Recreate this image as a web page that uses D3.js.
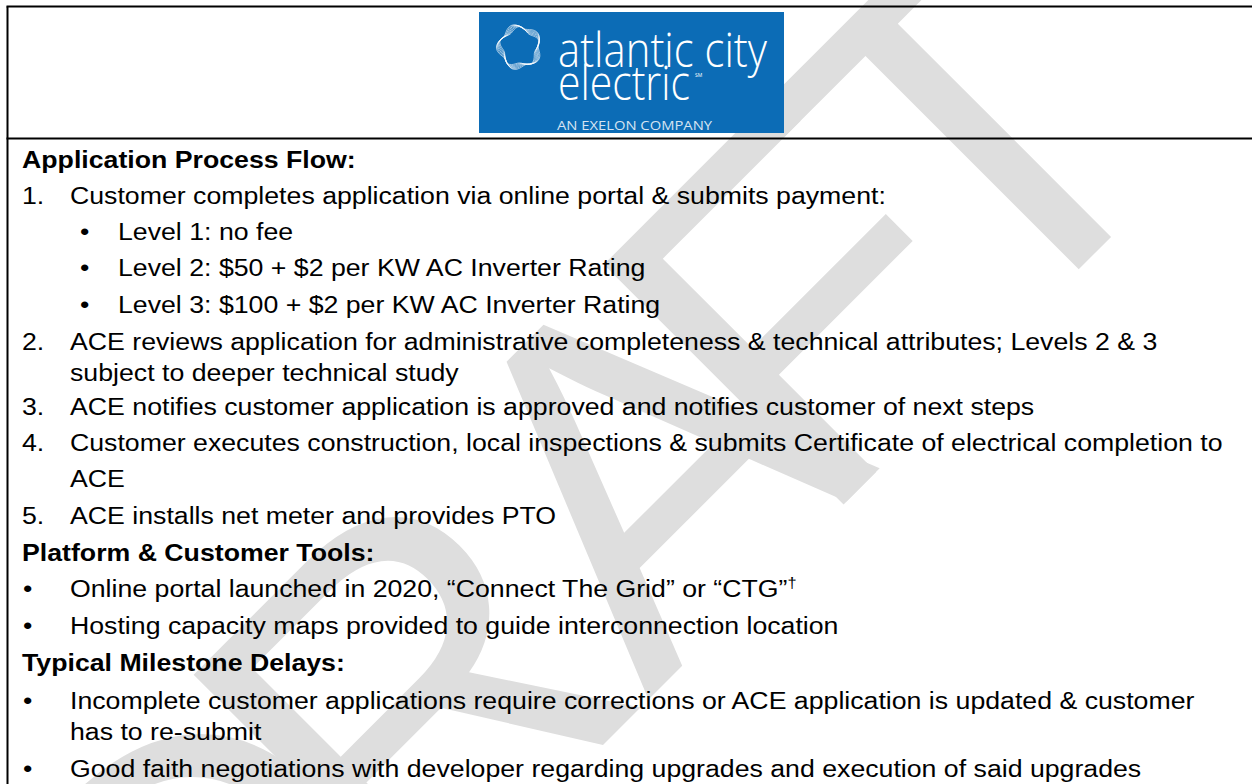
<!DOCTYPE html>
<html>
<head>
<meta charset="utf-8">
<script src="https://cdn.jsdelivr.net/npm/d3@7"></script>
<style>
  html, body { margin: 0; padding: 0; background: #fff; }
  svg { display: block; }
</style>
</head>
<body>
<svg id="chart" width="1252" height="784"></svg>
<script>
// ---------------- data ----------------
const sectionTitles = ["Application Process Flow:", "Platform & Customer Tools:", "Typical Milestone Delays:"];
const processSteps = [
  ["Customer completes application via online portal & submits payment:"],
  ["ACE reviews application for administrative completeness & technical attributes; Levels 2 & 3", "subject to deeper technical study"],
  ["ACE notifies customer application is approved and notifies customer of next steps"],
  ["Customer executes construction, local inspections & submits Certificate of electrical completion to", "ACE"],
  ["ACE installs net meter and provides PTO"]
];
const feeLevels = ["Level 1: no fee", "Level 2: $50 + $2 per KW AC Inverter Rating", "Level 3: $100 + $2 per KW AC Inverter Rating"];
const platformTools = [
  ["Online portal launched in 2020, \u201CConnect The Grid\u201D or \u201CCTG\u201D"],
  ["Hosting capacity maps provided to guide interconnection location"]
];
const milestoneDelays = [
  ["Incomplete customer applications require corrections or ACE application is updated & customer", "has to re-submit"],
  ["Good faith negotiations with developer regarding upgrades and execution of said upgrades"]
];
const logoLines = ["atlantic city", "electric"];
const logoTagline = "AN EXELON COMPANY";
const watermarkLetters = ["D", "R", "A", "F", "T"];
const watermarkAnchor = ["start", "start", "middle", "start", "middle"];
const watermarkOffset = [-1262, -976, -468, -396, 0];

// ---------------- build line list ----------------
const lines = [];
lines.push({kind: "head", text: sectionTitles[0]});
processSteps.forEach((p, i) => {
  p.forEach((t, j) => lines.push({kind: "num", marker: j === 0 ? (i + 1) + "." : null, text: t}));
  if (i === 0) feeLevels.forEach(t => lines.push({kind: "sub", marker: "\u2022", text: t}));
});
lines.push({kind: "head", text: sectionTitles[1]});
platformTools.forEach(p => p.forEach((t, j) => lines.push({kind: "bul", marker: j === 0 ? "\u2022" : null, text: t, dagger: t.indexOf("CTG") >= 0})));
lines.push({kind: "head", text: sectionTitles[2]});
milestoneDelays.forEach(p => p.forEach((t, j) => lines.push({kind: "bul", marker: j === 0 ? "\u2022" : null, text: t})));

const baselines = [168, 204, 240, 276, 313, 350, 381, 415, 451, 487, 524, 561, 597, 634, 671, 709, 740, 777];
lines.forEach((l, i) => l.y = baselines[i]);

const svg = d3.select("#chart");
const W = 1252, H = 784;

// ---------------- watermark ----------------
const wm = svg.append("g").attr("transform", "translate(1095,253) rotate(-45)");
const wmX = d3.scaleOrdinal().domain(watermarkLetters).range(watermarkOffset);
const wmA = d3.scaleOrdinal().domain(watermarkLetters).range(watermarkAnchor);
wm.selectAll("text").data(watermarkLetters).join("text")
  .attr("x", d => wmX(d))
  .attr("y", 0)
  .attr("text-anchor", d => wmA(d))
  .attr("font-family", "Liberation Sans, Arial, sans-serif")
  .attr("font-size", 493)
  .attr("fill", "#dedede")
  .text(d => d);

// ---------------- frame ----------------
const frame = svg.append("g").attr("stroke", "#000").attr("stroke-width", 2).attr("fill", "none");
frame.append("line").attr("x1", 7.5).attr("x2", 7.5).attr("y1", 6.5).attr("y2", H + 5);
frame.append("line").attr("x1", 6.5).attr("x2", W + 5).attr("y1", 6.5).attr("y2", 6.5);
frame.append("line").attr("x1", 6.5).attr("x2", W + 5).attr("y1", 138.5).attr("y2", 138.5);

// ---------------- logo ----------------
const logo = svg.append("g");
logo.append("rect").attr("x", 479).attr("y", 12).attr("width", 305).attr("height", 121).attr("fill", "#0c6cb6");
const ring = logo.append("g").attr("transform", "translate(519.5,47)");
const ringVariants = [0, 1, 2, 3, 4, 5];
ring.selectAll("path").data(ringVariants).join("path")
  .attr("d", k => {
    const pts = d3.range(0, 60).map(i => {
      const a = i / 60 * 2 * Math.PI;
      const r = 19.5 + 2.2 * Math.cos(5 * a + 0.35 * k) + (k - 2.5) * 0.55;
      return [a, r];
    });
    return d3.lineRadial().curve(d3.curveCardinalClosed)(pts);
  })
  .attr("fill", "none").attr("stroke", "#ffffff").attr("stroke-opacity", 0.85).attr("stroke-width", 0.7);
logo.append("text").attr("x", 558).attr("y", 67).attr("textLength", 209).attr("lengthAdjust", "spacingAndGlyphs")
  .attr("font-family", "Open Sans, Lato, sans-serif").attr("font-weight", 300).attr("font-size", 47).attr("fill", "#fff").text(logoLines[0]);
logo.append("text").attr("x", 558).attr("y", 100).attr("textLength", 132).attr("lengthAdjust", "spacingAndGlyphs")
  .attr("font-family", "Open Sans, Lato, sans-serif").attr("font-weight", 300).attr("font-size", 47).attr("fill", "#fff").text(logoLines[1]);
logo.append("text").attr("x", 695).attr("y", 77).attr("font-family", "Open Sans, sans-serif").attr("font-size", 5).attr("fill", "#fff").text("SM");
logo.append("text").attr("x", 557).attr("y", 129.5).attr("textLength", 155).attr("lengthAdjust", "spacingAndGlyphs")
  .attr("font-family", "Open Sans, sans-serif").attr("font-size", 13).attr("fill", "#d6e4f2").text(logoTagline);

// ---------------- text ----------------
const SX = 1.09; // horizontal stretch of the document text
const body = svg.append("g").attr("font-family", "Liberation Sans, Arial, sans-serif").attr("font-size", 24.5).attr("fill", "#000");
const textX = {head: 22, num: 70, sub: 118, bul: 70};
const markerX = {num: 22, sub: 80, bul: 23};

const rows = body.selectAll("g.row").data(lines).join("g").attr("class", "row");
rows.filter(d => d.marker).append("text")
  .attr("transform", d => `translate(${markerX[d.kind]},${d.y}) scale(${SX},1)`)
  .text(d => d.marker);
const tx = rows.append("text")
  .attr("transform", d => `translate(${textX[d.kind]},${d.y}) scale(${SX},1)`)
  .attr("font-weight", d => d.kind === "head" ? "bold" : "normal");
tx.append("tspan").text(d => d.text);
tx.filter(d => d.dagger).append("tspan").attr("font-size", 15).attr("dy", -9).text("\u2020");
</script>
</body>
</html>
